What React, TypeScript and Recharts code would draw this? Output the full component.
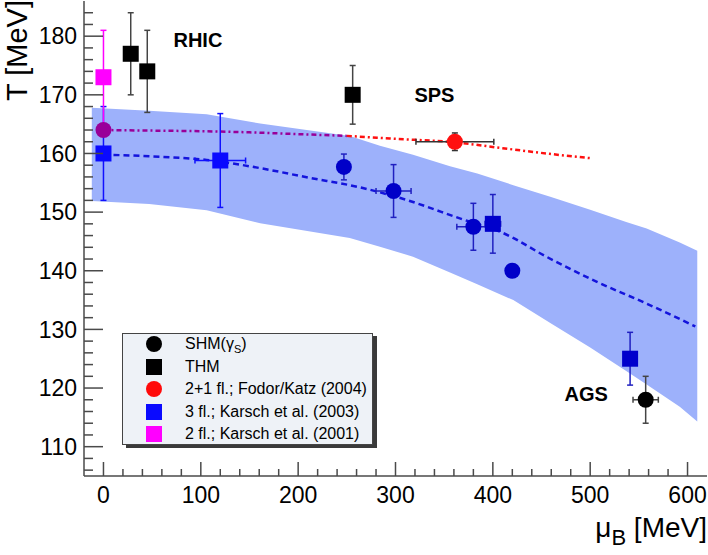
import React from 'react';
import { ComposedChart, XAxis, YAxis, Area, Line, Scatter, ErrorBar, ReferenceDot } from 'recharts';

const FONT = '"Liberation Sans", Arial, Helvetica, sans-serif';
const AX = '#4a4a4a';

// ---- ticks ----
const xTicks = [0, 20, 40, 60, 80, 100, 120, 140, 160, 180, 200, 220, 240, 260, 280, 300, 320, 340, 360, 380, 400, 420, 440, 460, 480, 500, 520, 540, 560, 580, 600];
const yTicks = [106, 108, 110, 112, 114, 116, 118, 120, 122, 124, 126, 128, 130, 132, 134, 136, 138, 140, 142, 144, 146, 148, 150, 152, 154, 156, 158, 160, 162, 164, 166, 168, 170, 172, 174, 176, 178, 180, 182, 184];

// ---- band (lattice uncertainty) ----
const band = [
  { mu: -12, band: [151.9, 167.8] },
  { mu: 47, band: [151.4, 167.3] },
  { mu: 106, band: [150.3, 166.7] },
  { mu: 161, band: [148.1, 165.1] },
  { mu: 253, band: [145.6, 163.0] },
  { mu: 284, band: [144.1, 161.3] },
  { mu: 318, band: [142.4, 159.8] },
  { mu: 356, band: [139.7, 157.8] },
  { mu: 384, band: [137.7, 156.6] },
  { mu: 421, band: [135.0, 154.6] },
  { mu: 459, band: [131.1, 152.6] },
  { mu: 500, band: [126.9, 150.4] },
  { mu: 537, band: [122.9, 148.3] },
  { mu: 558, band: [120.6, 147.2] },
  { mu: 592, band: [116.8, 144.8] },
  { mu: 610, band: [114.3, 143.4] },
];

// ---- curves ----
const karschCurve = [
  { mu: 0, T: 159.8 }, { mu: 50, T: 159.5 }, { mu: 106, T: 158.9 }, { mu: 161, T: 157.5 },
  { mu: 210, T: 155.9 }, { mu: 264, T: 154.2 }, { mu: 305, T: 152.4 }, { mu: 370, T: 148.7 },
  { mu: 411, T: 146.4 }, { mu: 455, T: 142.4 }, { mu: 507, T: 138.1 }, { mu: 558, T: 134.4 },
  { mu: 608, T: 130.5 },
];
const fodorCurveIn = [
  { mu: 0, T: 164.0 }, { mu: 50, T: 163.9 }, { mu: 100, T: 163.8 }, { mu: 150, T: 163.6 },
  { mu: 200, T: 163.3 }, { mu: 250, T: 163.0 },
];
const fodorCurveOut = [
  { mu: 250, T: 163.0 }, { mu: 300, T: 162.5 }, { mu: 361, T: 161.9 }, { mu: 410, T: 160.9 },
  { mu: 460, T: 159.9 }, { mu: 500, T: 159.2 },
];

// ---- points ----
const karsch2001 = [{ mu: 0, T: 173, ey: 8, ex: 0 }];
const thm = [
  { mu: 28, T: 177, ey: 7, ex: 0 },
  { mu: 45, T: 174, ey: 7, ex: 0 },
  { mu: 256, T: 170, ey: 5, ex: 5 },
];
const shmAgs = [{ mu: 557, T: 118, ey: 4, ex: 13 }];
const fodorPoint = [{ mu: 361, T: 162, ey: 1.5, ex: 40 }];
const fodorZero = [{ mu: 0, T: 164, ey: 0, ex: 0 }];
const shmBand = [
  { mu: 247, T: 157.7, ey: 2.2, ex: 0 },
  { mu: 298, T: 153.6, ey: 4.5, ex: 18 },
  { mu: 380, T: 147.5, ey: 4, ex: 17 },
  { mu: 420, T: 140.0, ey: 0, ex: 0 },
];
const karsch2003a = [
  { mu: 0, T: 160, ey: 8, ex: 0 },
  { mu: 120, T: 158.8, ey: 8, ex: 26 },
];
const karsch2003b = [
  { mu: 400, T: 148, ey: 5, ex: 8 },
  { mu: 541, T: 125, ey: 4.5, ex: 0 },
];

const legendItems = [
  { key: 'shm', shape: 'circle', color: '#000000', text: 'SHM' },
  { key: 'thm', shape: 'square', color: '#000000', text: 'THM' },
  { key: 'fk', shape: 'circle', color: '#ff0a0a', text: '2+1 fl.; Fodor/Katz (2004)' },
  { key: 'k3', shape: 'square', color: '#0a0aff', text: '3 fl.; Karsch et al. (2003)' },
  { key: 'k2', shape: 'square', color: '#ff00ff', text: '2 fl.; Karsch et al. (2001)' },
];

const MS = 16;
const square = (color: string) => (p: any) => (
  <rect x={p.cx - MS / 2} y={p.cy - MS / 2} width={MS} height={MS} fill={color} />
);
const circle = (color: string) => (p: any) => <circle cx={p.cx} cy={p.cy} r={MS / 2} fill={color} />;

function BottomTick(props: any) {
  const { x, y, payload } = props;
  const v = payload.value;
  const major = v % 100 === 0;
  return (
    <g>
      <line x1={x} x2={x} y1={y} y2={y - (major ? 14 : 7)} stroke={AX} strokeWidth={1.5} />
      {major && (
        <text x={x} y={y + 27} textAnchor="middle" fontSize={23} fontFamily={FONT} fill="#000">
          {v}
        </text>
      )}
    </g>
  );
}
function TopTick(props: any) {
  const { x, y, payload } = props;
  const major = payload.value % 100 === 0;
  return <line x1={x} x2={x} y1={y} y2={y + (major ? 14 : 7)} stroke={AX} strokeWidth={1.5} />;
}
function LeftTick(props: any) {
  const { x, y, payload } = props;
  const v = payload.value;
  const major = v % 10 === 0;
  return (
    <g>
      <line x1={x} x2={x + (major ? 19 : 9)} y1={y} y2={y} stroke={AX} strokeWidth={1.5} />
      {major && (
        <text x={x - 7} y={y + 8.3} textAnchor="end" fontSize={23} fontFamily={FONT} fill="#000">
          {v}
        </text>
      )}
    </g>
  );
}
function RightTick(props: any) {
  const { x, y, payload } = props;
  const major = payload.value % 10 === 0;
  return <line x1={x} x2={x - (major ? 19 : 9)} y1={y} y2={y} stroke={AX} strokeWidth={1.5} />;
}

const ax = { stroke: AX, strokeWidth: 1.5 };
const common = { xAxisId: 'b', yAxisId: 'l', isAnimationActive: false } as const;

function LegendBox() {
  return (
    <div
      style={{
        position: 'absolute', left: 122, top: 333, width: 249, height: 110,
        background: '#eef2f7', border: '1px solid #444', boxShadow: '4px 3px 0 #3a3a3a',
        fontFamily: FONT, fontSize: 16, color: '#000',
      }}
    >
      {legendItems.map((it, i) => (
        <div key={it.key} style={{ position: 'absolute', left: 0, top: 10 + i * 22.6 - 11, height: 22, width: 249 }}>
          <div
            style={{
              position: 'absolute', left: 31 - 8, top: 3, width: 16, height: 16,
              background: it.color, borderRadius: it.shape === 'circle' ? '50%' : 0,
            }}
          />
          <div style={{ position: 'absolute', left: 62, top: 2, whiteSpace: 'nowrap', lineHeight: '18px' }}>
            {it.key === 'shm' ? (
              <span>
                SHM(γ<sub style={{ fontSize: 11, verticalAlign: -4 }}>S</sub>)
              </span>
            ) : (
              it.text
            )}
          </div>
        </div>
      ))}
    </div>
  );
}

export default function App() {
  return (
    <div style={{ position: 'absolute', left: 0, top: 0, width: 708, height: 555, background: '#fff', fontFamily: FONT }}>
      <ComposedChart width={708} height={555} margin={{ top: 1, right: 1, bottom: 0, left: 0 }}>
        <XAxis
          xAxisId="b" dataKey="mu" type="number" domain={[-20, 620]} allowDataOverflow
          ticks={xTicks} interval={0} tickSize={0} tickMargin={0} height={79}
          axisLine={ax} tickLine={false} tick={<BottomTick />}
        />
        <XAxis
          xAxisId="t" orientation="top" dataKey="mu" type="number" domain={[-20, 620]} allowDataOverflow
          ticks={xTicks} interval={0} tickSize={0} tickMargin={0} height={0}
          axisLine={ax} tickLine={false} tick={<TopTick />}
        />
        <YAxis
          yAxisId="l" type="number" domain={[105, 186]} allowDataOverflow
          ticks={yTicks} interval={0} tickSize={0} tickMargin={0} width={84}
          axisLine={ax} tickLine={false} tick={<LeftTick />}
        />
        <YAxis
          yAxisId="r" orientation="right" type="number" domain={[105, 186]} allowDataOverflow
          ticks={yTicks} interval={0} tickSize={0} tickMargin={0} width={0}
          axisLine={ax} tickLine={false} tick={<RightTick />}
        />

        <Area {...common} data={band} dataKey="band" type="linear" stroke="none" fill="#9db1fb" fillOpacity={1} />

        <Line {...common} data={karschCurve} dataKey="T" type="monotone" stroke="#1414dc" strokeWidth={2.5} strokeDasharray="6 4" dot={false} activeDot={false} />
        <Line {...common} data={fodorCurveIn} dataKey="T" type="monotone" stroke="#990099" strokeWidth={2.5} strokeDasharray="5 3 2 3" dot={false} activeDot={false} />
        <Line {...common} data={fodorCurveOut} dataKey="T" type="monotone" stroke="#ff1010" strokeWidth={2.5} strokeDasharray="5 3 2 3" dot={false} activeDot={false} />

        <Scatter {...common} data={karsch2003a} dataKey="T" shape={square('#0a0aff')}>
          <ErrorBar dataKey="ey" direction="y" width={3} stroke="#1010ff" strokeWidth={1.5} />
          <ErrorBar dataKey="ex" direction="x" width={3} stroke="#1010ff" strokeWidth={1.5} />
        </Scatter>
        <Scatter {...common} data={karsch2001} dataKey="T" shape={square('#ff00ff')}>
          <ErrorBar dataKey="ey" direction="y" width={3} stroke="#ff00ff" strokeWidth={1.5} />
        </Scatter>
        <Scatter {...common} data={fodorZero} dataKey="T" shape={circle('#990099')} />
        <Scatter {...common} data={thm} dataKey="T" shape={square('#000000')}>
          <ErrorBar dataKey="ey" direction="y" width={3} stroke="#444" strokeWidth={1.5} />
          <ErrorBar dataKey="ex" direction="x" width={3} stroke="#444" strokeWidth={1.5} />
        </Scatter>
        <Scatter {...common} data={shmBand} dataKey="T" shape={circle('#0000c8')}>
          <ErrorBar dataKey="ey" direction="y" width={3} stroke="#2020c0" strokeWidth={1.5} />
          <ErrorBar dataKey="ex" direction="x" width={3} stroke="#2020c0" strokeWidth={1.5} />
        </Scatter>
        <Scatter {...common} data={karsch2003b} dataKey="T" shape={square('#0000cc')}>
          <ErrorBar dataKey="ey" direction="y" width={3} stroke="#2020c0" strokeWidth={1.5} />
          <ErrorBar dataKey="ex" direction="x" width={3} stroke="#2020c0" strokeWidth={1.5} />
        </Scatter>
        <Scatter {...common} data={fodorPoint} dataKey="T" shape={circle('#ff1010')}>
          <ErrorBar dataKey="ey" direction="y" width={3} stroke="#333" strokeWidth={1.5} />
          <ErrorBar dataKey="ex" direction="x" width={3} stroke="#333" strokeWidth={1.5} />
        </Scatter>
        <Scatter {...common} data={shmAgs} dataKey="T" shape={circle('#000000')}>
          <ErrorBar dataKey="ey" direction="y" width={3} stroke="#444" strokeWidth={1.5} />
          <ErrorBar dataKey="ex" direction="x" width={3} stroke="#444" strokeWidth={1.5} />
        </Scatter>

        <ReferenceDot xAxisId="b" yAxisId="l" x={97} y={179.4} r={0} stroke="none"
          label={{ value: 'RHIC', position: 'center', fontSize: 20, fontWeight: 'bold', fill: '#000', fontFamily: FONT }} />
        <ReferenceDot xAxisId="b" yAxisId="l" x={340} y={170} r={0} stroke="none"
          label={{ value: 'SPS', position: 'center', fontSize: 20, fontWeight: 'bold', fill: '#000', fontFamily: FONT }} />
        <ReferenceDot xAxisId="b" yAxisId="l" x={496} y={119} r={0} stroke="none"
          label={{ value: 'AGS', position: 'center', fontSize: 20, fontWeight: 'bold', fill: '#000', fontFamily: FONT }} />
      </ComposedChart>

      <svg width={708} height={555} style={{ position: 'absolute', left: 0, top: 0, pointerEvents: 'none' }}>
        <text transform="translate(27,0) rotate(-90)" textAnchor="end" fontSize={29} fontFamily={FONT} fill="#000">
          T [MeV]
        </text>
        <text x={707} y={537} textAnchor="end" fontSize={28} fontFamily={FONT} fill="#000">
          <tspan>μ</tspan>
          <tspan fontSize={22} dy={8}>B</tspan>
          <tspan dy={-8}> [MeV]</tspan>
        </text>
      </svg>
      <LegendBox />
    </div>
  );
}
